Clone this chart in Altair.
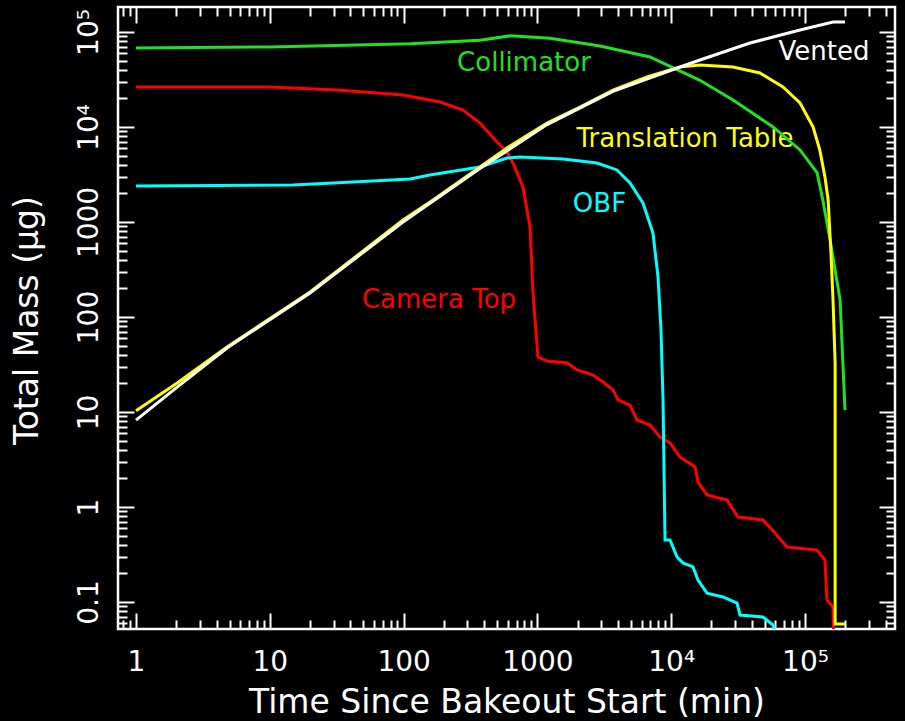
import altair as alt
import pandas as pd

W, H = 777, 622

series_names = ["Camera Top", "OBF", "Collimator", "Translation Table", "Vented"]
series_colors = ["#ff0000", "#00ffff", "#22e022", "#ffff00", "#ffffff"]

camera_t = [1, 10, 31.8, 99, 187, 278, 372, 499, 593, 657, 780, 881, 927, 1010, 1180, 1664, 1976, 2605,
            3093, 3672, 4004, 4920, 5550, 6950, 8250, 9800, 11640, 15070, 15860, 18530, 26140, 31580,
            48530, 59700, 73330, 123000, 141000, 146000, 162000, 168000]
camera_m = [26400, 26400, 24500, 21700, 18300, 15100, 11000, 6950, 5450, 4180, 2340, 886, 179, 37.9, 34.4,
            32.8, 27.7, 24.5, 20.7, 17.1, 13.4, 11.8, 8.24, 7.3, 5.46, 4.72, 3.36, 2.64, 1.83, 1.34, 1.18,
            0.785, 0.73, 0.532, 0.379, 0.352, 0.277, 0.105, 0.0886, 0.01]

obf_t = [1, 14.9, 41.9, 112, 157, 372, 593, 741, 1553, 2788, 3934, 4920, 6150, 7310, 7970, 8390, 8690,
         8990, 9800, 11050, 12240, 14550, 15860, 18530, 24380, 31050, 32680, 48530, 57680, 61700]
obf_m = [2390, 2450, 2640, 2840, 3130, 3790, 4720, 4830, 4600, 4180, 3530, 2570, 1585, 766, 264, 72.9, 13.4,
         0.45, 0.45, 0.298, 0.258, 0.234, 0.17, 0.124, 0.113, 0.0976, 0.073, 0.0695, 0.0573, 0.04]

collimator_t = [1, 10, 112, 372, 624, 1242, 2938, 6940, 16400, 29000, 57700, 91800, 123000, 136000,
                154000, 183000, 199000]
collimator_m = [68000, 69500, 75000, 82000, 91000, 86000, 71300, 54600, 31000, 19200, 10000, 5730, 3300,
                1706, 647, 151, 10.5]

table_t = [1, 2.03, 4.79, 20, 99, 166, 372, 593, 1180, 2081, 3672, 6590, 11640, 16410, 28960, 46100,
           68500, 91800, 115000, 129000, 141000, 149000, 156000, 162000, 168000, 168000, 199000]
table_m = [10.3, 20.2, 48.3, 183, 1050, 1706, 3790, 6010, 11000, 16200, 24500, 33600, 42800, 45000,
           42800, 37000, 26400, 17900, 10000, 5730, 2980, 1706, 507, 151, 32.8, 0.0586, 0.0586]

vented_t = [1, 2.03, 4.79, 20, 99, 372, 1180, 3672, 11640, 16410, 38800, 91800, 162000, 199000]
vented_m = [8.2, 18.3, 47.2, 179, 1000, 3650, 10600, 23700, 42800, 50700, 76600, 105000, 127000, 127000]

label_text = ["Collimator", "Vented", "Translation Table", "OBF", "Camera Top"]
label_t = [794, 138700, 12680, 2911, 184]
label_m = [38800, 50700, 6150, 1274, 124]
label_color = ["#22e022", "#ffffff", "#ffff00", "#00ffff", "#ff0000"]

x_major = [1, 10, 100, 1000, 10000, 100000]
x_major_labels = ["1", "10", "100", "1000", "10⁴", "10⁵"]
x_minor = [0.8, 0.9] + [m * 10 ** e for e in range(0, 5) for m in range(2, 10)] + [200000, 300000, 400000]
y_major = [0.1, 1, 10, 100, 1000, 10000, 100000]
y_major_labels = ["0.1", "1", "10", "100", "1000", "10⁴", "10⁵"]
y_minor = [0.06, 0.07, 0.08, 0.09] + [m * 10.0 ** e for e in range(-1, 5) for m in range(2, 10)]

x_domain = [0.7335, 470700]
y_domain = [0.05197, 183200]

rows = []
for name, ts, ms in zip(series_names,
                        [camera_t, obf_t, collimator_t, table_t, vented_t],
                        [camera_m, obf_m, collimator_m, table_m, vented_m]):
    for i, (t, m) in enumerate(zip(ts, ms)):
        rows.append({"series": name, "t": t, "m": m, "idx": i})
df = pd.DataFrame(rows)

labels_df = pd.DataFrame({"label": label_text, "t": label_t, "m": label_m, "color": label_color})


def label_expr(vals, labs):
    expr = f"'{labs[-1]}'"
    for v, lab in reversed(list(zip(vals[:-1], labs[:-1]))):
        expr = f"datum.value < {v * 3} ? '{lab}' : ({expr})"
    return expr


FONT = "DejaVu Sans"
xs = alt.Scale(type="log", domain=x_domain, nice=False)
ys = alt.Scale(type="log", domain=y_domain, nice=False)

x_label_axis = alt.Axis(
    orient="bottom", values=x_major, ticks=False, tickSize=0, domain=False, grid=False,
    labelExpr=label_expr(x_major, x_major_labels), labelFont=FONT, labelFontSize=28,
    labelColor="white", labelPadding=41, labelBaseline="alphabetic", labelAlign="center",
    labelOverlap=False, labelFlush=False,
    title="Time Since Bakeout Start (min)", titleFont=FONT, titleFontSize=33,
    titleFontWeight="normal", titleColor="white", titleX=W / 2, titleY=83,
    titleAlign="center", titleBaseline="alphabetic", titleAnchor="middle")

y_label_axis = alt.Axis(
    orient="left", values=y_major, ticks=False, tickSize=0, domain=False, grid=False,
    labelExpr=label_expr(y_major, y_major_labels), labelFont=FONT, labelFontSize=28,
    labelColor="white", labelPadding=21, labelAngle=270, labelBaseline="alphabetic",
    labelAlign="center", labelOverlap=False, labelFlush=False,
    title="Total Mass (μg)", titleFont=FONT, titleFontSize=33, titleFontWeight="normal",
    titleColor="white", titleAngle=270, titleX=-81, titleY=313, titleAlign="center",
    titleBaseline="alphabetic", titleAnchor="middle")


def tick_axis(orient, values, size, offset):
    return alt.Axis(orient=orient, offset=offset, values=values, ticks=True, tickSize=size,
                    tickWidth=2, tickColor="white", labels=False, domain=False, grid=False,
                    title=None)


base = alt.Chart(df)

lines = base.mark_line(strokeWidth=3, clip=True).encode(
    x=alt.X("t:Q", scale=xs, axis=x_label_axis),
    y=alt.Y("m:Q", scale=ys, axis=y_label_axis),
    color=alt.Color("series:N", scale=alt.Scale(domain=series_names, range=series_colors), legend=None),
    order=alt.Order("idx:Q"),
)


def tick_layer(xo, xv, yo, yv, size, xoff, yoff):
    return base.mark_point(opacity=0, clip=True).encode(
        x=alt.X("t:Q", scale=xs, axis=tick_axis(xo, xv, size, xoff)),
        y=alt.Y("m:Q", scale=ys, axis=tick_axis(yo, yv, size, yoff)),
    )


t1 = tick_layer("top", x_major, "right", y_major, 16, -H, -W)
t2 = tick_layer("top", x_minor, "right", y_minor, 9, -H, -W)
t3 = tick_layer("bottom", x_major, "left", y_major, 16, -H, -W)
t4 = tick_layer("bottom", x_minor, "left", y_minor, 9, -H, -W)

texts = alt.Chart(labels_df).mark_text(font=FONT, fontSize=26, align="center", baseline="alphabetic").encode(
    x=alt.X("t:Q", scale=xs, axis=None),
    y=alt.Y("m:Q", scale=ys, axis=None),
    text="label:N",
    color=alt.Color("color:N", scale=None),
)

chart = alt.layer(texts, lines, t1, t2, t3, t4).resolve_axis(
    x="independent", y="independent"
).properties(
    width=W, height=H,
    autosize=alt.AutoSizeParams(type="none"),
    padding={"left": 118, "top": 7, "right": 10, "bottom": 92},
    background="black",
).configure_view(stroke="white", strokeWidth=2.5)

chart.save("out.html", embed_options={"renderer": "svg", "actions": False})
